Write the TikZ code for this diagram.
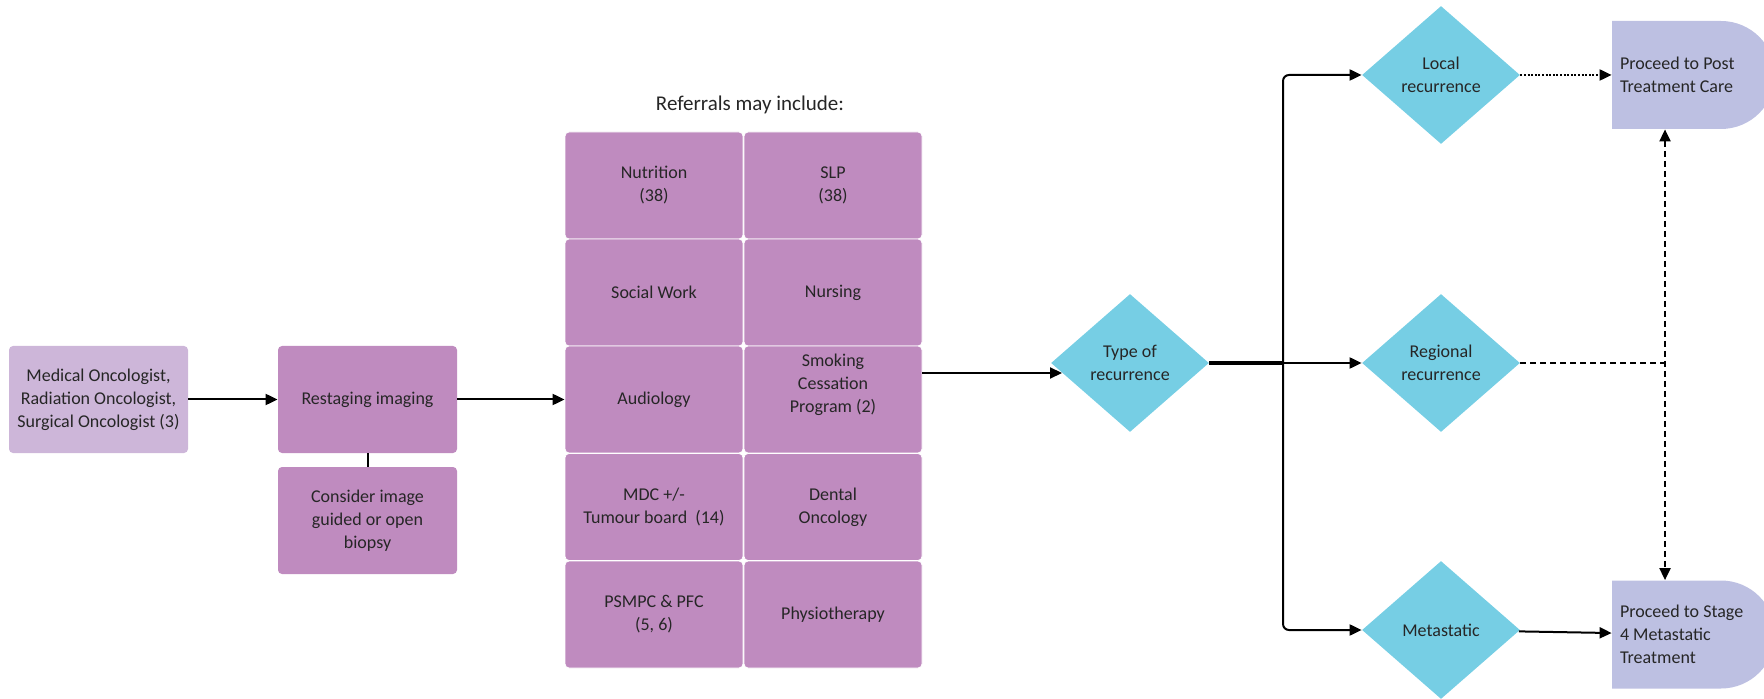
\documentclass[tikz,border=0pt]{standalone}
\usepackage{fontspec}
\setmainfont{Carlito}
\usetikzlibrary{shapes.geometric, arrows.meta}

\definecolor{lilac}{HTML}{CDB6D9}
\definecolor{plum}{HTML}{BF8BBF}
\definecolor{sky}{HTML}{76CEE4}
\definecolor{lavender}{HTML}{BDC0E2}
\definecolor{ink}{HTML}{262626}

\tikzset{
  box/.style={rectangle, rounded corners=2pt, fill=plum, text=ink, minimum width=89.5pt, minimum height=53.5pt, align=center, inner sep=2pt},
  cell/.style={box, draw=white, line width=0.4pt, minimum width=89pt, minimum height=53.5pt},
  choice/.style={diamond, fill=sky, text=ink, minimum width=79pt, minimum height=69pt, inner sep=0pt, align=center},
  delay/.style={rectangle, fill=white, text=ink, minimum width=81.5pt, minimum height=54pt, text width=73.5pt, inner xsep=4pt, align=flush left,
    path picture={\fill[lavender] (path picture bounding box.north west) -- ([xshift=-27pt]path picture bounding box.north east)
      arc[start angle=90, end angle=-90, radius=27pt] -- (path picture bounding box.south west) -- cycle;}},
  arr/.style={-{Triangle[length=6pt, width=5.5pt]}, line width=1pt},
}

\begin{document}
\begin{tikzpicture}[x=0.5pt, y=-0.5pt, font=\fontsize{9}{11.5}\selectfont]
    \useasboundingbox (0,0) rectangle (1764,699);

    % left column
    \node[box, fill=lilac] (onc) at (98.5,399.5) {Medical Oncologist,\\Radiation Oncologist,\\Surgical Oncologist (3)};
    \node[box] (restage) at (367.5,399.5) {Restaging imaging};
    \node[box] (biopsy) at (367.5,520.5) {Consider image\\guided or open\\biopsy};

    % referrals
    \node[inner sep=0pt, text=ink, font=\fontsize{10.5}{12}\selectfont] (refs) at (750,105) {Referrals may include:};
    \node[cell] (nutrition) at (654,185.5) {Nutrition\\(38)};
    \node[cell] (slp) at (833,185.5) {SLP\\(38)};
    \node[cell] (social) at (654,292.5) {Social Work};
    \node[cell] (nursing) at (833,292.5) {Nursing};
    \node[cell] (audio) at (654,399.5) {Audiology};
    \node[cell] (smoking) at (833,399.5) {Smoking\\Cessation\\Program (2)\\[5pt]};
    \node[cell] (mdc) at (654,507) {MDC +/-\\Tumour board~~(14)};
    \node[cell] (dental) at (833,507) {Dental\\Oncology};
    \node[cell] (psmpc) at (654,614.5) {PSMPC \& PFC\\(5, 6)};
    \node[cell] (physio) at (833,614.5) {Physiotherapy};

    % decisions
    \node[choice] (type) at (1130,363) {Type of\\recurrence};
    \node[choice] (local) at (1441,75) {Local\\recurrence};
    \node[choice] (regional) at (1441,363) {Regional\\recurrence};
    \node[choice] (meta) at (1441,630) {Metastatic};

    \node[delay] (post) at (1693.5,75) {Proceed to Post\\Treatment Care};
    \node[delay] (stage) at (1693.5,634.5) {Proceed to Stage\\4 Metastatic\\Treatment};

    \coordinate (fork) at (1283,363);
    \coordinate (link) at (1665,363);

    \draw[arr] (onc) -- (restage);
    \draw[line width=1pt] (restage) -- (biopsy);
    \draw[arr] (restage) -- (audio);
    \draw[arr] ([yshift=13.25pt]smoking.east) -- ([xshift=5.7pt, yshift=-5pt]type.west);
    \draw[line width=2pt] (type) -- (fork);
    \draw[arr] (fork) -- (regional);
    \draw[arr, rounded corners=3pt] (fork) |- (local);
    \draw[arr, rounded corners=3pt] (fork) |- (meta);
    \draw[arr, dash pattern=on 1pt off 0.8pt] (local) -- (post);
    \draw[line width=1.2pt, dash pattern=on 3pt off 2pt] (regional) -- (link);
    \draw[arr, {Triangle[length=6pt, width=5.5pt]}-{Triangle[length=6pt, width=5.5pt]}, dash pattern=on 3pt off 2pt] (post.south -| link) -- (stage.north -| link);
    \draw[arr] (meta) -- (stage);
\end{tikzpicture}
\end{document}
